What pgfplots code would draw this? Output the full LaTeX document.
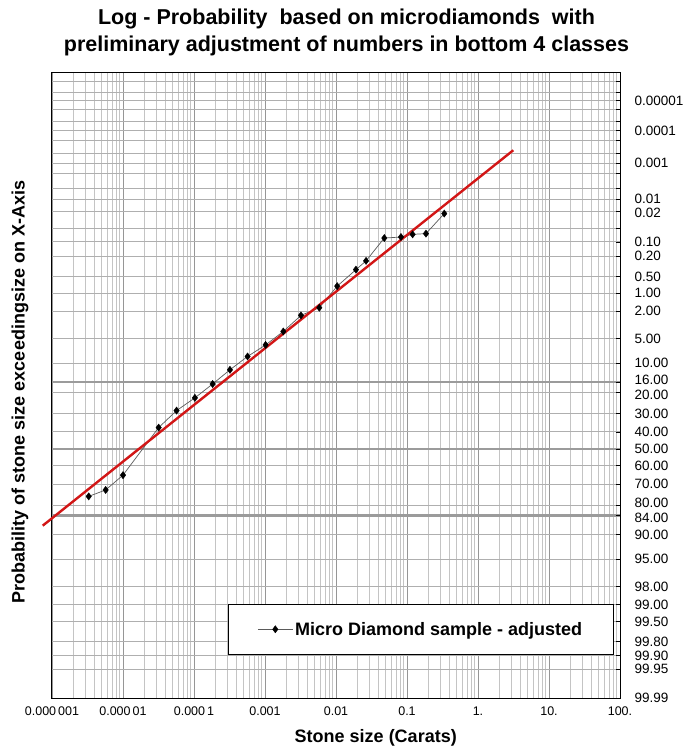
\documentclass[border=0pt]{standalone}
\usepackage{pgfplots}
\usepackage{pgfplotstable}
\pgfplotsset{compat=1.18}
\usepackage{fontspec}
\setmainfont{Liberation Sans}
\definecolor{gridminor}{RGB}{196,196,196}
\definecolor{gridmajor}{RGB}{150,150,150}
\definecolor{gridy}{RGB}{175,175,175}
\definecolor{gridthick}{RGB}{155,155,155}
\definecolor{fitred}{RGB}{210,22,22}
\definecolor{dataline}{RGB}{90,90,90}
\newcommand{\lift}[2]{\raisebox{#1}[\height][\depth]{#2}}

% x = stone size (carats), z = normal score of exceedance probability
\pgfplotstableread{
x z
3.29e-6 0.709
5.70e-6 0.613
1.00e-5 0.392
3.18e-5 -0.318
5.68e-5 -0.572
1.03e-4 -0.762
1.83e-4 -0.969
3.21e-4 -1.181
5.68e-4 -1.380
1.02e-3 -1.552
1.81e-3 -1.753
3.21e-3 -1.993
5.82e-3 -2.108
1.04e-2 -2.430
1.91e-2 -2.676
2.65e-2 -2.807
4.79e-2 -3.148
8.22e-2 -3.163
1.20e-1 -3.203
1.85e-1 -3.214
3.35e-1 -3.513
}\diamonds

\begin{document}
\begin{tikzpicture}
\path[use as bounding box] (-52pt,-51pt) rectangle (641pt,698pt);
\begin{axis}[
  at={(0,0)}, anchor=south west,
  scale only axis, width=568pt, height=625pt,
  xmode=log, xmin=1e-6, xmax=100,
  ymin=-5.6120, ymax=3.7190, y dir=reverse,
  clip=false,
  axis line style={black, line width=1pt},
  /pgf/number format/assume math mode=true,
  xtick={1e-6,1e-5,1e-4,1e-3,1e-2,1e-1,1,10,100},
  xticklabels={0.000\,001, 0.000\,01, 0.000\,1, 0.001, 0.01, 0.1, 1., 10., 100.},
  xtick pos=bottom,
  x tick style={draw=none},
  xticklabel style={font=\fontsize{12.5}{14}\selectfont, yshift=-5pt},
  xmajorgrids, xminorgrids,
  major x grid style={gridmajor, line width=0.8pt},
  minor x grid style={gridminor, line width=0.8pt},
  ytick={-5.1993,-4.7534,-4.2649,-3.7190,-3.5401,-3.0902,-2.8782,-2.5758,-2.3263,-2.0537,-1.6449,-1.2816,-0.9945,-0.8416,-0.5244,-0.2533,0,0.2533,0.5244,0.8416,0.9945,1.2816,1.6449,2.0537,2.3263,2.5758,2.8782,3.0902,3.2905,3.7190},
  yticklabels={0.00001,0.0001,0.001,\lift{1pt}{0.01},\lift{-1.5pt}{0.02},0.10,0.20,0.50,1.00,2.00,5.00,10.00,\lift{2.5pt}{16.00},\lift{-2pt}{20.00},30.00,40.00,50.00,60.00,70.00,\lift{2pt}{80.00},\lift{-2.5pt}{84.00},90.00,95.00,98.00,99.00,99.50,99.80,99.90,99.95,99.99},
  minor ytick={-5.4921,-5.3267,-5.0690,-4.8916,-4.6114,-4.4172,-4.1075,-3.8906,-3.2905},
  ytick pos=right, yticklabel pos=right,
  y tick style={black, line width=0.8pt},
  tick align=inside,
  major tick length=4pt, minor tick length=4pt,
  yticklabel style={font=\fontsize{13.5}{15}\selectfont, anchor=west, xshift=11pt},
  ymajorgrids, yminorgrids,
  major y grid style={gridy, line width=0.9pt},
  minor y grid style={gridy, line width=0.9pt},
  extra y ticks={-0.9945,0,0.9945},
  extra y tick labels={},
  extra y tick style={major y grid style={gridthick, line width=2.2pt}},
  title={Log - Probability\ \ based on microdiamonds\ \ with\\preliminary adjustment of numbers in bottom 4 classes},
  title style={at={(axis description cs:0.5185,1.0552)}, anchor=center, align=center, font=\fontsize{21.5}{27}\selectfont\bfseries},
  xlabel={Stone size (Carats)},
  xlabel style={at={(axis description cs:0.570,-0.064)}, anchor=center, font=\fontsize{18}{21}\selectfont\bfseries},
  ylabel={Probability of stone size exceedingsize on X-Axis},
  ylabel style={at={(axis description cs:-0.0563,0.4896)}, anchor=center, rotate=0, font=\fontsize{18}{21}\selectfont\bfseries},
  legend style={at={(axis description cs:0.3099,0.0688)}, anchor=south west, draw=black, line width=0.9pt, fill=white, inner xsep=29pt, inner ysep=16pt, font=\fontsize{18}{21}\selectfont\bfseries},
  legend cell align=left,
  legend image code/.code={\draw[#1, mark repeat=2, mark phase=2] plot coordinates {(0pt,0pt) (17.5pt,0pt) (35pt,0pt)};},
]
\addplot[dataline, line width=0.7pt, mark=diamond*, mark size=3.6pt, mark options={black, fill=black, solid, line width=0.4pt}] table[x=x, y=z] {\diamonds};
\addlegendentry{Micro Diamond sample - adjusted}
\addplot[fitred, line width=2.4pt, forget plot] coordinates {(7.4e-7,1.146) (3.14,-4.459)};
\end{axis}
\end{tikzpicture}
\end{document}
